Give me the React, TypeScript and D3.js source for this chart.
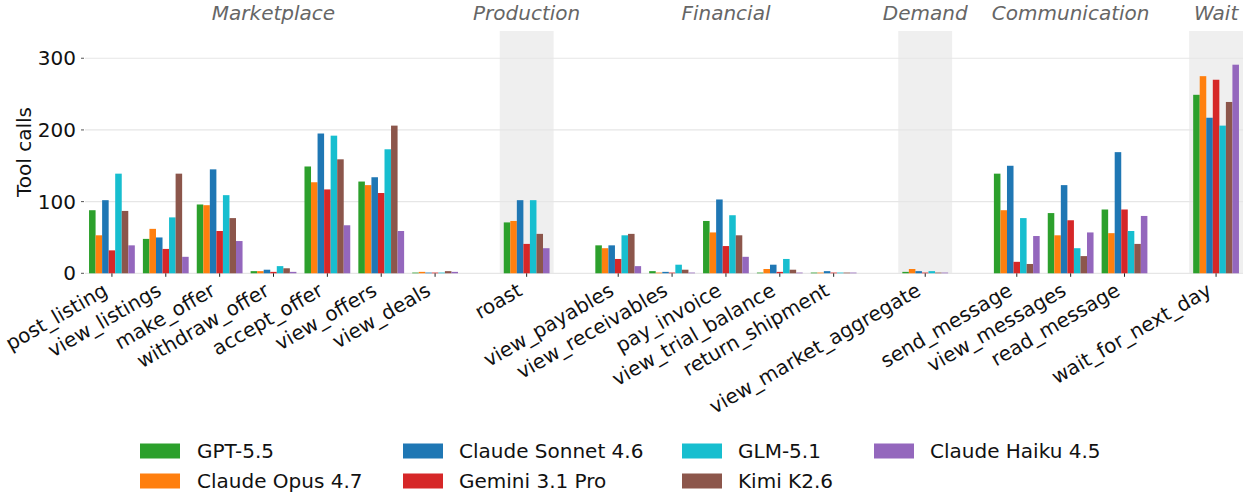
import React from "react";
import * as d3 from "d3";

const categories = [
  "post_listing", "view_listings", "make_offer", "withdraw_offer", "accept_offer", "view_offers", "view_deals",
  "roast",
  "view_payables", "view_receivables", "pay_invoice", "view_trial_balance", "return_shipment",
  "view_market_aggregate",
  "send_message", "view_messages", "read_message",
  "wait_for_next_day",
];
const groupNames = ["Marketplace", "Production", "Financial", "Demand", "Communication", "Wait"];
const groupSizes = [7, 1, 5, 1, 3, 1];

const models = ["GPT-5.5", "Claude Opus 4.7", "Claude Sonnet 4.6", "Gemini 3.1 Pro", "GLM-5.1", "Kimi K2.6", "Claude Haiku 4.5"];
const colors = ["#2ca02c", "#ff7f0e", "#1f77b4", "#d62728", "#17becf", "#8c564b", "#9467bd"];

const gpt55 = [88, 48, 96, 3, 149, 128, 1, 71, 39, 3, 73, 1, 1, 2, 139, 84, 89, 249];
const opus47 = [53, 62, 95, 3, 127, 123, 2, 73, 35, 1, 57, 6, 1, 6, 88, 53, 56, 275];
const sonnet46 = [102, 50, 145, 5, 195, 134, 1, 102, 39, 2, 103, 12, 3, 3, 150, 123, 169, 217];
const gemini31 = [32, 34, 59, 2, 117, 112, 1, 41, 20, 1, 38, 2, 1, 1, 16, 74, 89, 270];
const glm51 = [139, 78, 109, 10, 192, 173, 1, 102, 53, 12, 81, 20, 1, 3, 77, 35, 59, 206];
const kimiK26 = [87, 139, 77, 7, 159, 206, 3, 55, 55, 5, 53, 5, 1, 1, 13, 24, 41, 239];
const haiku45 = [39, 23, 45, 2, 67, 59, 2, 35, 10, 1, 23, 1, 1, 1, 52, 57, 80, 291];
const seriesValues = [gpt55, opus47, sonnet46, gemini31, glm51, kimiK26, haiku45];

const yTicks = [0, 100, 200, 300];

const GAP = 0.7;
const FONT = "DejaVu Sans, sans-serif";
const FS = 20;

export default function App() {
  const W = 1255, H = 497;
  const left = 85, right = 1243, top = 31, bottom = 273.3;

  const groupIdx: number[] = [];
  groupSizes.forEach((n, g) => { for (let k = 0; k < n; k++) groupIdx.push(g); });
  const pos = categories.map((_, i) => i + groupIdx[i] * GAP);
  const maxPos = pos[pos.length - 1];

  const x = d3.scaleLinear().domain([-0.5, maxPos + 0.5]).range([left, right]);
  const y = d3.scaleLinear().domain([0, 338]).range([bottom, top]);
  const totalW = 0.85;
  const bw = totalW / models.length;

  const groups = groupNames.map((name, g) => {
    const idx = categories.map((_, i) => i).filter(i => groupIdx[i] === g);
    const p0 = pos[idx[0]], p1 = pos[idx[idx.length - 1]];
    return { name, g, p0, p1, center: (p0 + p1) / 2 };
  });

  const legendCols = [
    { sx: 140, tx: 197 },
    { sx: 403, tx: 459 },
    { sx: 682, tx: 738 },
    { sx: 874, tx: 930 },
  ];
  const legendRows = [451, 481];

  return (
    <svg width={W} height={H} style={{ position: "absolute", left: 0, top: 0, background: "#fff" }} fontFamily={FONT}>
      {groups.filter(g => g.g % 2 === 1).map(g => (
        <rect key={g.name} x={x(g.p0 - 0.5)} y={top} width={x(g.p1 + 0.5) - x(g.p0 - 0.5)} height={bottom - top} fill="#efefef" />
      ))}
      {yTicks.map(t => (
        <line key={t} x1={left} x2={right} y1={y(t)} y2={y(t)} stroke="#e6e6e6" strokeWidth={1.2} />
      ))}
      {yTicks.map(t => (
        <g key={"yt" + t}>
          <line x1={left - 4} x2={left - 1} y1={y(t)} y2={y(t)} stroke="#555" strokeWidth={1} />
          <text x={left - 9} y={y(t)} dy="0.35em" textAnchor="end" fontSize={FS} fill="#111">{t}</text>
        </g>
      ))}
      <text transform={`translate(31,152) rotate(-90)`} textAnchor="middle" fontSize={FS} fill="#111">Tool calls</text>
      {seriesValues.map((vals, m) => (
        <g key={models[m]} fill={colors[m]}>
          {vals.map((v, i) => {
            const px = pos[i] - totalW / 2 + m * bw;
            return <rect key={i} x={x(px)} y={y(v)} width={x(px + bw) - x(px)} height={y(0) - y(v)} />;
          })}
        </g>
      ))}
      {categories.map((c, i) => (
        <g key={c}>
          <line x1={x(pos[i])} x2={x(pos[i])} y1={bottom} y2={bottom + 3.5} stroke="#222" strokeWidth={1} />
          <text transform={`translate(${x(pos[i]) - 3},${bottom + 21}) rotate(-30)`} textAnchor="end" fontSize={FS} fill="#111">{c}</text>
        </g>
      ))}
      {groups.map(g => (
        <text key={"gl" + g.name} x={x(g.center)} y={20} textAnchor="middle" fontSize={FS} fontStyle="italic" fill="#666">{g.name}</text>
      ))}
      {models.map((m, k) => {
        const col = Math.floor(k / 2), row = k % 2;
        const c = legendCols[col];
        const cy = legendRows[row];
        return (
          <g key={"lg" + m}>
            <rect x={c.sx} y={cy - 7.5} width={40} height={15} fill={colors[k]} />
            <text x={c.tx} y={cy} dy="0.35em" fontSize={FS} fill="#111">{m}</text>
          </g>
        );
      })}
    </svg>
  );
}
